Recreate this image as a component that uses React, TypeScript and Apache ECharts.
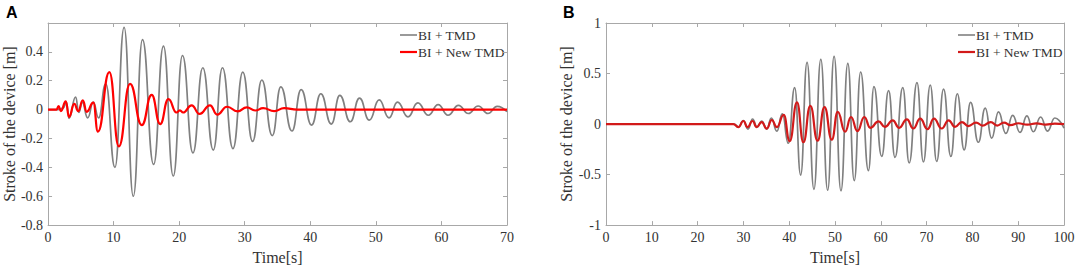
import React, { useEffect, useRef } from "react";
import * as echarts from "echarts";

// Panel A – BI + TMD (extrema)
const tA_gray = [0, 1.5, 2.3, 2.8, 3.2, 4.2, 4.7, 5.2, 6.05, 6.9, 7.7, 8.8, 10.2, 11.6, 13.0, 14.4, 16.1, 17.6, 19.1, 20.5, 22.1, 23.6, 25.2, 26.6, 28.2, 29.7, 31.2, 32.6, 34.2, 35.5, 37.2, 38.6, 40.2, 41.6, 43.2, 44.5, 46.1, 47.5, 49.0, 50.5, 52.0, 53.3, 54.9, 56.4, 58.0, 59.5, 61.0, 62.6, 64.1, 65.6, 67.1, 68.5, 70];
const vA_gray = [0, 0, 0.01, 0.05, -0.06, 0.087, -0.02, 0.05, -0.057, 0.052, -0.057, 0.178, -0.40, 0.57, -0.60, 0.485, -0.38, 0.44, -0.46, 0.375, -0.30, 0.29, -0.28, 0.29, -0.27, 0.26, -0.22, 0.205, -0.18, 0.158, -0.148, 0.139, -0.107, 0.11, -0.10, 0.098, -0.084, 0.08, -0.073, 0.068, -0.057, 0.052, -0.05, 0.046, -0.039, 0.034, -0.039, 0.03, -0.027, 0.025, -0.027, 0.023, -0.015];

// Panel A – BI + New TMD
const tA_red = [0, 1.3, 1.6, 1.95, 2.7, 3.2, 4.0, 4.6, 5.3, 5.9, 6.9, 7.6, 9.35, 10.8, 12.5, 14.3, 15.8, 17.1, 18.35, 19.6, 20.1, 20.6, 21.9, 23.1, 24.7, 25.8, 27.3, 28.9, 30.3, 31.6, 32.8, 34.5, 36.0, 38.0, 70];
const vA_red = [0, 0, 0.025, -0.01, 0.057, -0.05, 0.04, -0.01, 0.064, -0.015, 0.048, -0.152, 0.26, -0.255, 0.178, -0.107, 0.102, -0.10, 0.072, -0.02, -0.005, -0.02, 0.03, -0.03, 0.03, -0.035, 0.02, -0.012, 0.015, -0.006, 0.01, -0.01, 0.01, 0, 0];

// Panel B – BI + TMD
const tB_gray = [0, 28, 28.9, 30.0, 31.0, 32.0, 33.0, 34.0, 35.1, 36.1, 37.3, 38.5, 39.8, 41.2, 42.5, 43.9, 45.4, 46.9, 48.4, 49.8, 51.3, 52.8, 54.2, 55.6, 57.3, 58.5, 60.2, 61.7, 63.1, 64.8, 66.2, 67.9, 69.3, 70.8, 72.2, 73.7, 75.3, 76.7, 78.2, 79.6, 81.3, 82.8, 84.2, 85.7, 87.3, 88.8, 90.4, 91.9, 93.3, 94.9, 96.4, 98.0, 100];
const vB_gray = [0, 0, -0.03, 0.035, -0.05, 0.05, -0.03, 0.03, -0.05, 0.06, -0.07, 0.10, -0.19, 0.36, -0.505, 0.61, -0.646, 0.64, -0.655, 0.67, -0.66, 0.60, -0.56, 0.515, -0.46, 0.37, -0.32, 0.33, -0.33, 0.36, -0.385, 0.41, -0.375, 0.385, -0.37, 0.345, -0.32, 0.30, -0.255, 0.215, -0.18, 0.157, -0.14, 0.12, -0.093, 0.086, -0.083, 0.08, -0.076, 0.07, -0.07, 0.06, -0.04];

// Panel B – BI + New TMD
const tB_red = [0, 27.8, 28.9, 30.0, 30.9, 32.0, 32.9, 34.0, 35.1, 36.2, 37.3, 38.8, 40.1, 41.7, 43.1, 44.6, 46.2, 47.7, 49.3, 50.6, 52.2, 53.5, 54.9, 56.4, 57.7, 59.5, 60.9, 62.6, 64.0, 65.7, 67.1, 68.6, 70.2, 71.6, 73.3, 74.8, 76.2, 77.7, 79.1, 80.8, 82.2, 84.0, 85.4, 86.9, 88.3, 90, 92, 94, 96, 98, 100];
const vB_red = [0, 0, -0.03, 0.03, -0.03, 0.03, -0.03, 0.02, -0.045, 0.04, -0.03, 0.09, -0.17, 0.215, -0.18, 0.18, -0.165, 0.168, -0.155, 0.12, -0.076, 0.07, -0.07, 0.07, -0.037, 0.027, -0.028, 0.037, -0.037, 0.047, -0.044, 0.054, -0.05, 0.054, -0.044, 0.037, -0.028, 0.02, -0.02, 0.015, -0.015, 0.02, -0.015, 0.015, -0.01, 0.008, -0.006, 0.006, -0.005, 0.004, 0];

const seriesNames = ["BI + TMD", "BI + New TMD"];
const panelLabels = ["A", "B"];
const yTitle = "Stroke of the device [m]";
const xTitle = "Time[s]";

const zip = (t: number[], v: number[]) => t.map((x, i) => [x, v[i]]);

const SERIF = "'Liberation Serif', 'Times New Roman', serif";
const AXIS_COLOR = "#a8a8a8";
const LABEL_COLOR = "#333333";
const GRAY = "#808080";
const RED_A = "#ff0000";
const RED_B = "#d21a1a";

export default function App() {
  const ref = useRef<HTMLDivElement>(null);
  useEffect(() => {
    if (!ref.current) return;
    const chart = echarts.init(ref.current, undefined, { renderer: "svg" });

    const grids = [
      { left: 48, top: 23, width: 459, height: 205 },
      { left: 606, top: 23, width: 458, height: 205 },
    ];
    const xr = [
      { min: 0, max: 70 },
      { min: 0, max: 100 },
    ];
    const yr = [
      { min: -0.8, max: 0.6, interval: 0.2, showMax: false },
      { min: -1, max: 1, interval: 0.5, showMax: true },
    ];

    const xAxis: any[] = [];
    const yAxis: any[] = [];
    [0, 1].forEach((g) => {
      xAxis.push({
        type: "value", gridIndex: g, position: "bottom", min: xr[g].min, max: xr[g].max, interval: 10,
        name: xTitle, nameLocation: "middle", nameGap: 21,
        nameTextStyle: { fontFamily: SERIF, fontSize: 16, color: LABEL_COLOR },
        axisLine: { show: true, onZero: false, lineStyle: { color: AXIS_COLOR, width: 1 } },
        axisTick: { show: true, inside: true, length: 4, lineStyle: { color: AXIS_COLOR } },
        axisLabel: { fontFamily: SERIF, fontSize: 14, color: LABEL_COLOR, margin: 5 },
        splitLine: { show: false },
      });
      xAxis.push({
        type: "value", gridIndex: g, position: "top", min: xr[g].min, max: xr[g].max, interval: 10,
        axisLine: { show: true, onZero: false, lineStyle: { color: AXIS_COLOR, width: 1 } },
        axisTick: { show: true, inside: true, length: 4, lineStyle: { color: AXIS_COLOR } },
        axisLabel: { show: false },
        splitLine: { show: false },
      });
      yAxis.push({
        type: "value", gridIndex: g, position: "left", min: yr[g].min, max: yr[g].max, interval: yr[g].interval,
        name: yTitle, nameLocation: "middle", nameGap: g === 0 ? 29 : 30, nameRotate: 90,
        nameTextStyle: { fontFamily: SERIF, fontSize: 16, color: LABEL_COLOR },
        axisLine: { show: true, onZero: false, lineStyle: { color: AXIS_COLOR, width: 1 } },
        axisTick: { show: true, inside: true, length: 4, lineStyle: { color: AXIS_COLOR } },
        axisLabel: { fontFamily: SERIF, fontSize: 14, color: LABEL_COLOR, margin: 5, showMaxLabel: yr[g].showMax },
        splitLine: { show: false },
      });
      yAxis.push({
        type: "value", gridIndex: g, position: "right", min: yr[g].min, max: yr[g].max, interval: yr[g].interval,
        axisLine: { show: true, onZero: false, lineStyle: { color: AXIS_COLOR, width: 1 } },
        axisTick: { show: true, inside: true, length: 4, lineStyle: { color: AXIS_COLOR } },
        axisLabel: { show: false },
        splitLine: { show: false },
      });
    });

    const mkSeries = (name: string, data: number[][], g: number, color: string, width: number, z: number) => ({
      type: "line", name, data, xAxisIndex: g * 2, yAxisIndex: g * 2,
      showSymbol: false, symbol: "none", smooth: 0.5, smoothMonotone: "x",
      lineStyle: { color, width }, itemStyle: { color }, z,
      emphasis: { disabled: true },
    });

    const series = [
      mkSeries(seriesNames[0], zip(tA_gray, vA_gray), 0, GRAY, 1.7, 2),
      mkSeries(seriesNames[1], zip(tA_red, vA_red), 0, RED_A, 2.2, 3),
      mkSeries(seriesNames[0], zip(tB_gray, vB_gray), 1, GRAY, 1.7, 2),
      mkSeries(seriesNames[1], zip(tB_red, vB_red), 1, RED_B, 2.2, 3),
    ];

    const legendAt = (x: number, colors: string[]) =>
      seriesNames.flatMap((n, i) => [
        { type: "line", shape: { x1: x, y1: 35 + i * 17, x2: x + 17, y2: 35 + i * 17 }, style: { stroke: colors[i], lineWidth: i === 0 ? 1.6 : 2.2 } },
        { type: "text", x: x + 18, y: 35 + i * 17, style: { text: n, fontFamily: SERIF, fontSize: 13.5, fill: LABEL_COLOR, verticalAlign: "middle", align: "left" } },
      ]);

    chart.setOption({
      animation: false,
      backgroundColor: "#ffffff",
      grid: grids,
      xAxis,
      yAxis,
      series,
      graphic: [
        { type: "text", x: 6, y: 4, style: { text: panelLabels[0], fontFamily: "'Liberation Sans', Arial, sans-serif", fontWeight: "bold", fontSize: 16, fill: "#000" } },
        { type: "text", x: 563, y: 4, style: { text: panelLabels[1], fontFamily: "'Liberation Sans', Arial, sans-serif", fontWeight: "bold", fontSize: 16, fill: "#000" } },
        ...legendAt(400, [GRAY, RED_A]),
        ...legendAt(958, [GRAY, RED_B]),
      ],
    });
    return () => chart.dispose();
  }, []);
  return <div ref={ref} style={{ position: "fixed", left: 0, top: 0, width: 1084, height: 270 }} />;
}
